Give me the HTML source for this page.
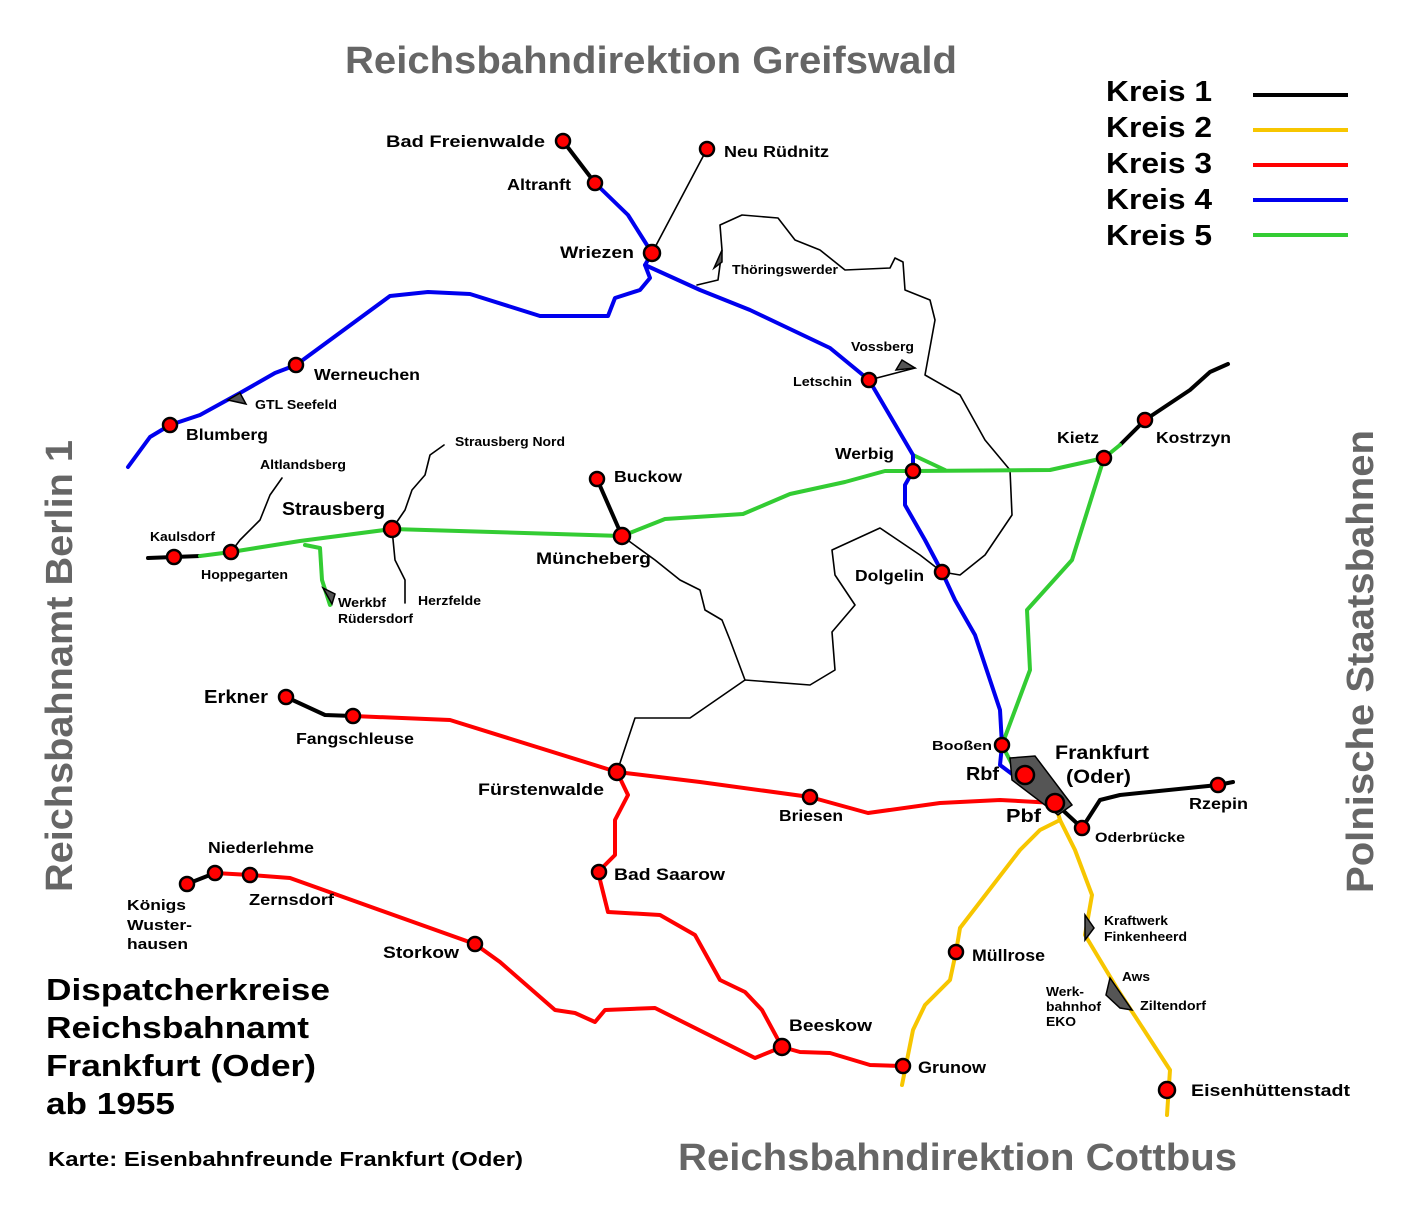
<!DOCTYPE html>
<html><head><meta charset="utf-8"><style>
html,body{margin:0;padding:0;background:#fff}
svg{display:block}
text{font-family:"Liberation Sans",Arial,sans-serif;font-weight:bold;fill:#000}
.t{font-size:15px}
.s{font-size:13px}
.g{fill:#666}
</style></head><body>
<svg width="1417" height="1209" viewBox="0 0 1417 1209" xmlns="http://www.w3.org/2000/svg">
<g fill="none" stroke-linejoin="round" stroke-linecap="round">
<g stroke="#000" stroke-width="1.6">
<polyline points="707,149 652,253"/>
<polyline points="697,285 718,280 722,250 720,225 742,215 778,218 795,240 820,250 845,270 890,268 895,258 903,262 905,290 930,300 935,320 925,375 960,395 985,440 1010,470 1012,515 985,555 960,575 942,572"/>
<polyline points="869,380 915,368"/>
<polyline points="942,572 920,555 880,528 832,550 835,575 855,605 832,632 835,670 810,685 745,680 690,718 635,718 617,772"/>
<polyline points="622,536 655,560 680,580 700,590 705,610 722,620 730,640 745,680"/>
<polyline points="392,529 405,510 412,490 425,475 430,455 444,445"/>
<polyline points="392,529 395,560 405,580 405,603"/>
<polyline points="231,552 240,540 260,520 270,495 282,478"/>
</g>
<g stroke="#000" stroke-width="4">
<polyline points="563,141 595,183"/>
<polyline points="597,479 622,536"/>
<polyline points="148,558 174,557 200,556"/>
<polyline points="1120,445 1145,420 1190,390 1210,372 1228,364"/>
<polyline points="286,697 325,715 353,716"/>
<polyline points="187,884 215,873"/>
<polyline points="1055,803 1082,828 1100,800 1120,795 1218,785 1233,782"/>
</g>
<g stroke="#f7c600" stroke-width="4">
<polyline points="1055,803 1060,820 1040,830 1020,850 960,928 956,952 950,980 925,1005 913,1030 902,1085"/>
<polyline points="1060,820 1075,850 1092,895 1085,935 1118,990 1170,1070 1167,1115"/>
</g>
<g stroke="#f00" stroke-width="4">
<polyline points="353,716 450,720 617,772 700,782 810,797 868,813 940,803 1000,800 1055,803"/>
<polyline points="617,772 628,795 615,820 615,855 598,872 608,912 660,915 695,935 720,980 745,992 762,1010 782,1047 800,1052 830,1053 870,1065 903,1066"/>
<polyline points="215,873 250,875 290,878 475,944 500,962 555,1010 575,1013 595,1022 605,1010 655,1008 755,1058 782,1047"/>
</g>
<g stroke="#33cc33" stroke-width="4">
<polyline points="200,556 231,552 300,541 392,529 622,536 665,519 743,514 790,494 845,482 885,471 913,471 1050,470 1104,458 1120,445"/>
<polyline points="913,455 945,470"/>
<polyline points="305,545 320,548 322,580 330,605"/>
<polyline points="1104,458 1072,560 1027,610 1030,670 1002,745 1015,770 1055,803"/>
</g>
<g stroke="#0000ee" stroke-width="4">
<polyline points="128,467 150,437 170,425 200,415 240,393 275,373 296,365 390,296 428,292 470,294 540,316 608,316 615,298 640,290 650,278 645,265 652,253 628,215 595,183"/>
<polyline points="645,265 700,290 750,310 830,348 869,380 913,455 913,471 905,485 905,505 925,540 942,572 955,600 975,635 1000,710 1002,745 1000,765 1020,780 1055,803"/>
</g>
</g>
<g fill="#555" stroke="#000" stroke-width="1.5">
<polygon points="722,250 714,268 722,262"/>
<polygon points="240,393 228,400 246,404"/>
<polygon points="902,360 915,368 896,370"/>
<polygon points="323,588 332,604 335,594"/>
<polygon points="1085,915 1085,940 1094,928"/>
<polygon points="1110,978 1132,1010 1120,1008 1106,995"/>
<polygon points="1010,758 1035,756 1072,805 1058,815 1012,780"/>
</g>
<g fill="#f00" stroke="#000" stroke-width="2.5">
<circle cx="563" cy="141" r="7"/><circle cx="595" cy="183" r="7"/><circle cx="707" cy="149" r="7"/>
<circle cx="652" cy="253" r="8"/><circle cx="296" cy="365" r="7"/><circle cx="170" cy="425" r="7"/>
<circle cx="869" cy="380" r="7"/><circle cx="913" cy="471" r="7"/><circle cx="1104" cy="458" r="7"/>
<circle cx="1145" cy="420" r="7"/><circle cx="597" cy="479" r="7"/><circle cx="622" cy="536" r="8"/>
<circle cx="392" cy="529" r="8"/><circle cx="231" cy="552" r="7"/><circle cx="174" cy="557" r="7"/>
<circle cx="942" cy="572" r="7"/><circle cx="286" cy="697" r="7"/><circle cx="353" cy="716" r="7"/>
<circle cx="617" cy="772" r="8"/><circle cx="810" cy="797" r="7"/><circle cx="1002" cy="745" r="7"/>
<circle cx="1025" cy="775" r="9"/><circle cx="1055" cy="803" r="9"/><circle cx="1082" cy="828" r="7"/>
<circle cx="1218" cy="785" r="7"/><circle cx="187" cy="884" r="7"/><circle cx="215" cy="873" r="7"/>
<circle cx="250" cy="875" r="7"/><circle cx="599" cy="872" r="7"/><circle cx="475" cy="944" r="7"/>
<circle cx="956" cy="952" r="7"/><circle cx="782" cy="1047" r="8"/><circle cx="903" cy="1066" r="7"/>
<circle cx="1167" cy="1090" r="8"/>
</g>
<g lengthAdjust="spacingAndGlyphs">
<text x="1106" y="101" style="font-size:29px" textLength="106" lengthAdjust="spacingAndGlyphs">Kreis 1</text>
<text x="1106" y="137" style="font-size:29px" textLength="106" lengthAdjust="spacingAndGlyphs">Kreis 2</text>
<text x="1106" y="173" style="font-size:29px" textLength="106" lengthAdjust="spacingAndGlyphs">Kreis 3</text>
<text x="1106" y="209" style="font-size:29px" textLength="106" lengthAdjust="spacingAndGlyphs">Kreis 4</text>
<text x="1106" y="245" style="font-size:29px" textLength="106" lengthAdjust="spacingAndGlyphs">Kreis 5</text>
</g>
<g stroke-width="4">
<line x1="1253" y1="95" x2="1348" y2="95" stroke="#000"/>
<line x1="1253" y1="130" x2="1348" y2="130" stroke="#f7c600"/>
<line x1="1253" y1="165" x2="1348" y2="165" stroke="#f00"/>
<line x1="1253" y1="200" x2="1348" y2="200" stroke="#0000ee"/>
<line x1="1253" y1="235" x2="1348" y2="235" stroke="#33cc33"/>
</g>
<text class="g" x="345" y="73" style="font-size:38px" textLength="612" lengthAdjust="spacingAndGlyphs">Reichsbahndirektion Greifswald</text>
<text class="g" x="678" y="1170" style="font-size:38px" textLength="559" lengthAdjust="spacingAndGlyphs">Reichsbahndirektion Cottbus</text>
<text class="g" transform="translate(72,892) rotate(-90)" style="font-size:38px" textLength="452" lengthAdjust="spacingAndGlyphs">Reichsbahnamt Berlin 1</text>
<text class="g" transform="translate(1373,893) rotate(-90)" style="font-size:38px" textLength="463" lengthAdjust="spacingAndGlyphs">Polnische Staatsbahnen</text>
<text x="46" y="1000" style="font-size:31px" textLength="284" lengthAdjust="spacingAndGlyphs">Dispatcherkreise</text>
<text x="46" y="1038" style="font-size:31px" textLength="263" lengthAdjust="spacingAndGlyphs">Reichsbahnamt</text>
<text x="46" y="1076" style="font-size:31px" textLength="270" lengthAdjust="spacingAndGlyphs">Frankfurt (Oder)</text>
<text x="46" y="1114" style="font-size:31px" textLength="129" lengthAdjust="spacingAndGlyphs">ab 1955</text>
<text x="48" y="1166" style="font-size:20px" textLength="475" lengthAdjust="spacingAndGlyphs">Karte: Eisenbahnfreunde Frankfurt (Oder)</text>
<text x="386" y="147" style="font-size:17px" textLength="159" lengthAdjust="spacingAndGlyphs">Bad Freienwalde</text>
<text x="507" y="190" style="font-size:16px" textLength="64" lengthAdjust="spacingAndGlyphs">Altranft</text>
<text x="724" y="157" style="font-size:16px" textLength="105" lengthAdjust="spacingAndGlyphs">Neu Rüdnitz</text>
<text x="560" y="258" style="font-size:17px" textLength="74" lengthAdjust="spacingAndGlyphs">Wriezen</text>
<text class="s" x="732" y="274" textLength="106" lengthAdjust="spacingAndGlyphs">Thöringswerder</text>
<text x="314" y="380" style="font-size:16px" textLength="106" lengthAdjust="spacingAndGlyphs">Werneuchen</text>
<text class="s" x="255" y="409" textLength="82" lengthAdjust="spacingAndGlyphs">GTL Seefeld</text>
<text x="186" y="440" style="font-size:16px" textLength="82" lengthAdjust="spacingAndGlyphs">Blumberg</text>
<text class="s" x="851" y="351" textLength="63" lengthAdjust="spacingAndGlyphs">Vossberg</text>
<text class="s" x="793" y="386" textLength="59" lengthAdjust="spacingAndGlyphs">Letschin</text>
<text x="1057" y="443" style="font-size:16px" textLength="42" lengthAdjust="spacingAndGlyphs">Kietz</text>
<text x="1156" y="443" style="font-size:16px" textLength="75" lengthAdjust="spacingAndGlyphs">Kostrzyn</text>
<text x="835" y="459" style="font-size:16px" textLength="59" lengthAdjust="spacingAndGlyphs">Werbig</text>
<text class="s" x="455" y="446" textLength="110" lengthAdjust="spacingAndGlyphs">Strausberg Nord</text>
<text class="s" x="260" y="469" textLength="86" lengthAdjust="spacingAndGlyphs">Altlandsberg</text>
<text x="614" y="482" style="font-size:16px" textLength="68" lengthAdjust="spacingAndGlyphs">Buckow</text>
<text x="282" y="515" style="font-size:18px" textLength="103" lengthAdjust="spacingAndGlyphs">Strausberg</text>
<text class="s" x="150" y="541" textLength="65" lengthAdjust="spacingAndGlyphs">Kaulsdorf</text>
<text class="s" x="201" y="579" textLength="87" lengthAdjust="spacingAndGlyphs">Hoppegarten</text>
<text x="536" y="564" style="font-size:17px" textLength="115" lengthAdjust="spacingAndGlyphs">Müncheberg</text>
<text x="855" y="581" style="font-size:16px" textLength="69" lengthAdjust="spacingAndGlyphs">Dolgelin</text>
<text class="s" x="338" y="607" textLength="48" lengthAdjust="spacingAndGlyphs">Werkbf</text>
<text class="s" x="338" y="623" textLength="75" lengthAdjust="spacingAndGlyphs">Rüdersdorf</text>
<text class="s" x="418" y="605" textLength="63" lengthAdjust="spacingAndGlyphs">Herzfelde</text>
<text x="204" y="703" style="font-size:18px" textLength="64" lengthAdjust="spacingAndGlyphs">Erkner</text>
<text x="296" y="744" style="font-size:16px" textLength="118" lengthAdjust="spacingAndGlyphs">Fangschleuse</text>
<text class="s" x="932" y="750" textLength="60" lengthAdjust="spacingAndGlyphs">Booßen</text>
<text x="1055" y="759" style="font-size:19px" textLength="94" lengthAdjust="spacingAndGlyphs">Frankfurt</text>
<text x="1066" y="783" style="font-size:19px" textLength="65" lengthAdjust="spacingAndGlyphs">(Oder)</text>
<text x="966" y="780" style="font-size:18px" textLength="33" lengthAdjust="spacingAndGlyphs">Rbf</text>
<text x="1006" y="822" style="font-size:18px" textLength="35" lengthAdjust="spacingAndGlyphs">Pbf</text>
<text x="478" y="795" style="font-size:17px" textLength="126" lengthAdjust="spacingAndGlyphs">Fürstenwalde</text>
<text x="779" y="821" style="font-size:16px" textLength="64" lengthAdjust="spacingAndGlyphs">Briesen</text>
<text x="1189" y="809" style="font-size:16px" textLength="59" lengthAdjust="spacingAndGlyphs">Rzepin</text>
<text x="1095" y="842" style="font-size:14px" textLength="90" lengthAdjust="spacingAndGlyphs">Oderbrücke</text>
<text x="208" y="853" style="font-size:16px" textLength="106" lengthAdjust="spacingAndGlyphs">Niederlehme</text>
<text x="614" y="880" style="font-size:17px" textLength="111" lengthAdjust="spacingAndGlyphs">Bad Saarow</text>
<text x="249" y="905" style="font-size:16px" textLength="85" lengthAdjust="spacingAndGlyphs">Zernsdorf</text>
<text x="127" y="910" style="font-size:15px" textLength="59" lengthAdjust="spacingAndGlyphs">Königs</text>
<text x="127" y="930" style="font-size:15px" textLength="65" lengthAdjust="spacingAndGlyphs">Wuster-</text>
<text x="127" y="949" style="font-size:15px" textLength="61" lengthAdjust="spacingAndGlyphs">hausen</text>
<text class="s" x="1104" y="925" textLength="64" lengthAdjust="spacingAndGlyphs">Kraftwerk</text>
<text class="s" x="1104" y="941" textLength="83" lengthAdjust="spacingAndGlyphs">Finkenheerd</text>
<text x="383" y="958" style="font-size:17px" textLength="76" lengthAdjust="spacingAndGlyphs">Storkow</text>
<text x="972" y="961" style="font-size:17px" textLength="73" lengthAdjust="spacingAndGlyphs">Müllrose</text>
<text class="s" x="1122" y="981" textLength="28" lengthAdjust="spacingAndGlyphs">Aws</text>
<text class="s" x="1046" y="996" textLength="38" lengthAdjust="spacingAndGlyphs">Werk-</text>
<text class="s" x="1046" y="1011" textLength="55" lengthAdjust="spacingAndGlyphs">bahnhof</text>
<text class="s" x="1046" y="1026" textLength="30" lengthAdjust="spacingAndGlyphs">EKO</text>
<text class="s" x="1140" y="1010" textLength="66" lengthAdjust="spacingAndGlyphs">Ziltendorf</text>
<text x="789" y="1031" style="font-size:17px" textLength="83" lengthAdjust="spacingAndGlyphs">Beeskow</text>
<text x="918" y="1073" style="font-size:17px" textLength="68" lengthAdjust="spacingAndGlyphs">Grunow</text>
<text x="1191" y="1096" style="font-size:17px" textLength="159" lengthAdjust="spacingAndGlyphs">Eisenhüttenstadt</text>
</svg>
</body></html>
